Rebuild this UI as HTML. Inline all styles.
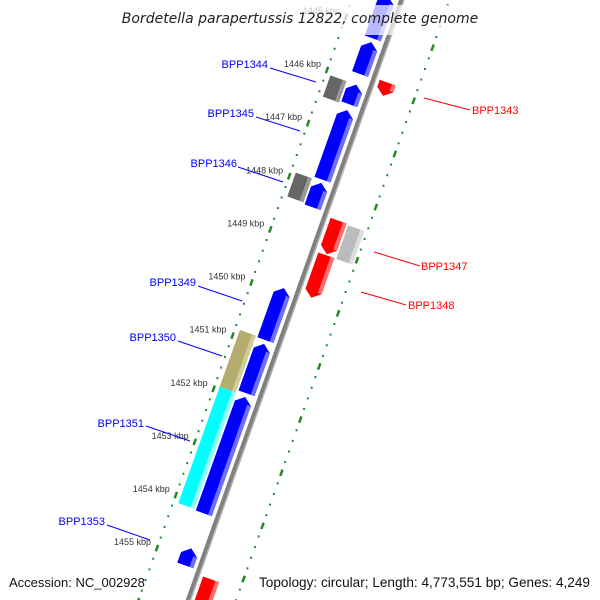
<!DOCTYPE html>
<html><head><meta charset="utf-8"><style>
html,body{margin:0;padding:0;background:#fff;overflow:hidden;}
svg{display:block;font-family:"Liberation Sans","DejaVu Sans",sans-serif;}
</style></head><body>
<svg id="map" width="600" height="600" viewBox="0 0 600 600" xmlns="http://www.w3.org/2000/svg">
<rect width="600" height="600" fill="#fff"/>
<g id="rings"></g>
<g id="backbone"></g>
<g id="genes"></g>
<g id="ticklabels" font-size="9" fill="#333"></g>
<g font-size="11">
 <g><line x1="270" y1="68" x2="316" y2="82" stroke="#0000ff"/><text x="268" y="68" text-anchor="end" fill="#0000ff">BPP1344</text></g>
 <g><line x1="256" y1="117" x2="300" y2="131" stroke="#0000ff"/><text x="254" y="117" text-anchor="end" fill="#0000ff">BPP1345</text></g>
 <g><line x1="238" y1="167" x2="283" y2="182" stroke="#0000ff"/><text x="237" y="167" text-anchor="end" fill="#0000ff">BPP1346</text></g>
 <g><line x1="198" y1="286" x2="242" y2="301" stroke="#0000ff"/><text x="196" y="286" text-anchor="end" fill="#0000ff">BPP1349</text></g>
 <g><line x1="178" y1="341" x2="222" y2="356" stroke="#0000ff"/><text x="176" y="341" text-anchor="end" fill="#0000ff">BPP1350</text></g>
 <g><line x1="146" y1="426" x2="190" y2="441" stroke="#0000ff"/><text x="144" y="427" text-anchor="end" fill="#0000ff">BPP1351</text></g>
 <g><line x1="107" y1="525" x2="150" y2="540" stroke="#0000ff"/><text x="105" y="525" text-anchor="end" fill="#0000ff">BPP1353</text></g>
 <g><line x1="424" y1="98" x2="470" y2="110" stroke="#ff0000"/><text x="472" y="114" fill="#ff0000">BPP1343</text></g>
 <g><line x1="374" y1="252" x2="420" y2="266" stroke="#ff0000"/><text x="421" y="270" fill="#ff0000">BPP1347</text></g>
 <g><line x1="361" y1="292" x2="406" y2="305" stroke="#ff0000"/><text x="408" y="309" fill="#ff0000">BPP1348</text></g>
</g>
<rect x="125" y="5" width="352" height="30" fill="#fff" fill-opacity="0.72"/>
<text x="300" y="23" text-anchor="middle" font-size="14" font-style="italic" fill="#222" style="font-family:'DejaVu Sans',sans-serif">Bordetella parapertussis 12822, complete genome</text>
<rect x="4" y="570" width="128" height="24" fill="#fff" fill-opacity="0.72"/>
<rect x="255" y="570" width="340" height="24" fill="#fff" fill-opacity="0.72"/>
<text x="9" y="587" font-size="13" fill="#111">Accession: NC_002928</text>
<text x="590" y="587" text-anchor="end" font-size="13.6" fill="#111">Topology: circular; Length: 4,773,551 bp; Genes: 4,249</text>
</svg>
<script>
// gene data (kbp)
const geneNames = ["g-top","g-small-1","BPP1344","g-small-2","BPP1345","BPP1346","g-small-3","BPP1343","g-red-1","BPP1347","BPP1348","BPP1349","g-blue-a","BPP1350","BPP1351","g-blue-b","BPP1353","g-red-bottom"];
const geneStart = [1444.4,1445.27,1446.07,1446.07,1446.55,1447.9,1447.92,1445.85,1448.45,1448.47,1449.1,1449.9,1450.95,1450.86,1451.93,1451.95,1454.8,1455.2];
const geneEnd   = [1445.2,1445.87,1446.47,1446.44,1447.86,1448.35,1448.38,1446.1,1449.08,1449.1,1449.9,1450.88,1451.88,1451.93,1454.12,1454.14,1455.12,1455.9];
const geneLane  = ["blue","blue","gray","blue","blue","gray","blue","red","red","ltgray","red","blue","blue","gray","gray","blue","blue","red"];
const geneDir   = [-1,-1,0,-1,-1,0,-1,1,1,0,1,-1,-1,0,0,-1,-1,1];
const geneColor = ["#0000ff","#0000ff","#666666","#0000ff","#0000ff","#666666","#0000ff","#ff0000","#ff0000","#bbbbbb","#ff0000","#0000ff","#0000ff","#b5ad6e","#00ffff","#0000ff","#0000ff","#ff0000"];
const tickKbp = [1445,1446,1447,1448,1449,1450,1451,1452,1453,1454,1455];

const NS="http://www.w3.org/2000/svg";
const laneR={gray:[3233,3250],blue:[3252,3269],red:[3281,3298],ltgray:[3300,3317]};
const shade={"#0000ff":"#6f6fff","#666666":"#999999","#ff0000":"#ff7070","#bbbbbb":"#dddddd","#b5ad6e":"#d2cc9a","#00ffff":"#8fffff"};
const DX=-0.335, DY=0.942, NX=0.942, NY=0.335, PERKBP=56.4;
function P(k,r){const t=(k-1446)*PERKBP, o=(r-3228);return [327+t*DX+o*NX, 70+t*DY+o*NY];}
function el(tag,attrs,parent){const e=document.createElementNS(NS,tag);for(const k in attrs)e.setAttribute(k,attrs[k]);parent.appendChild(e);return e;}
function pts(a){return a.map(p=>p[0].toFixed(2)+","+p[1].toFixed(2)).join(" ");}

// rings
const rings=document.getElementById('rings');
[3228,3320].forEach(function(R){
  for(let i=0;i<=70;i++){
    const k=1443+i*0.2;
    if(Math.abs(k-Math.round(k))<1e-6){
      const a=P(k-0.06,R),b=P(k+0.06,R);
      const d=el('line',{x1:a[0],y1:a[1],x2:b[0],y2:b[1],stroke:'#228b22','stroke-width':2.5},rings);
      
      
    } else {
      const c=P(k,R);
      const d=el('rect',{x:c[0]-1,y:c[1]-1,width:2,height:2,fill:'#228b22'},rings);
      
      
    }
  }
});

// backbone
const bb=document.getElementById('backbone');
function seg(R,k1,k2){const a=P(k1,R),b=P(k2,R);return "M"+a[0]+","+a[1]+" L"+b[0]+","+b[1];}
let b1=el('path',{d:seg(3275,1443,1457),stroke:'#808080','stroke-width':5,fill:'none'},bb);


let b2=el('path',{d:seg(3277,1443,1457),stroke:'#b0b0b0','stroke-width':1.5,fill:'none'},bb);



// genes
const gg=document.getElementById('genes');
const AL=0.12;
for(let i=0;i<geneNames.length;i++){
  const [r1,r2]=laneR[geneLane[i]];const rm=(r1+r2)/2;
  let s=geneStart[i],e=geneEnd[i],poly;
  if(geneDir[i]<0){poly=[P(s,rm),P(s+AL,r2),P(e,r2),P(e,r1),P(s+AL,r1)];}
  else if(geneDir[i]>0){poly=[P(s,r1),P(s,r2),P(e-AL,r2),P(e,rm),P(e-AL,r1)];}
  else {poly=[P(s,r1),P(s,r2),P(e,r2),P(e,r1)];}
  const g=el('g',{},gg);
  
  
  const p=el('polygon',{points:pts(poly),fill:geneColor[i]},g);
  
  
  const ss=geneDir[i]<0?s+AL:s, ee=geneDir[i]>0?e-AL:e;
  const st=el('polygon',{points:pts([P(ss,r2-4),P(ss,r2),P(ee,r2),P(ee,r2-4)]),fill:shade[geneColor[i]]},g);
  
  
}

// tick labels
const tl=document.getElementById('ticklabels');
tickKbp.forEach(function(k){
  const c=P(k,3228);
  const t=el('text',{x:(c[0]-6).toFixed(1),y:(c[1]-3).toFixed(1),'text-anchor':'end'},tl);
  t.textContent=k+" kbp";
  
  
});
</script>
</body></html>
